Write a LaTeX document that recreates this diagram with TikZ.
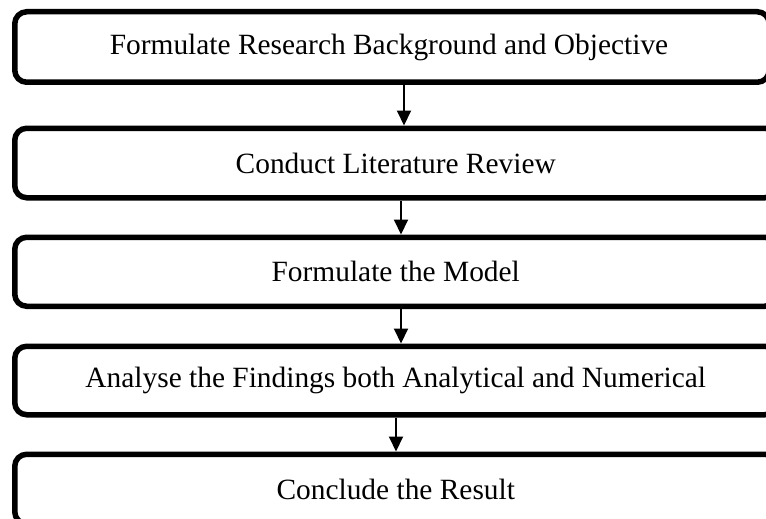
\documentclass[tikz,border=0pt]{standalone}
\usepackage{fontspec}
\setmainfont{Liberation Serif}
\usetikzlibrary{arrows.meta}
\begin{document}
\begin{tikzpicture}[x=1pt,y=1pt,
  stepbox/.style={draw=black, line width=5.5pt, rounded corners=12pt, inner sep=0pt,
    minimum width=762pt, minimum height=69.5pt, anchor=north west,
    font=\fontsize{29.4}{34}\selectfont},
  arr/.style={line width=2pt, -{Triangle[width=14pt,length=15pt]}}]
\clip (0,0) rectangle (766,-519);
\fill[white] (0,0) rectangle (766,-519);
\node[stepbox, minimum width=754.5pt, minimum height=70.5pt] (b1) at (12,-9) {Formulate Research Background and Objective\hspace*{6pt}};
\node[stepbox] (b2) at (12,-125.5) {Conduct Literature Review};
\node[stepbox, minimum height=69pt] (b3) at (12,-234.5) {Formulate the Model};
\node[stepbox, minimum height=68.5pt] (b4) at (12,-343.5) {Analyse the Findings both Analytical and Numerical};
\node[stepbox] (b5) at (12,-451.5) {Conclude the Result};
\coordinate (a1) at (404,0);
\coordinate (a2) at (401,0);
\coordinate (a3) at (401,0);
\coordinate (a4) at (396,0);
\draw[arr] (b1.south -| a1) -- (b2.north -| a1);
\draw[arr] (b2.south -| a2) -- (b3.north -| a2);
\draw[arr] (b3.south -| a3) -- (b4.north -| a3);
\draw[arr] (b4.south -| a4) -- (b5.north -| a4);
\end{tikzpicture}
\end{document}
